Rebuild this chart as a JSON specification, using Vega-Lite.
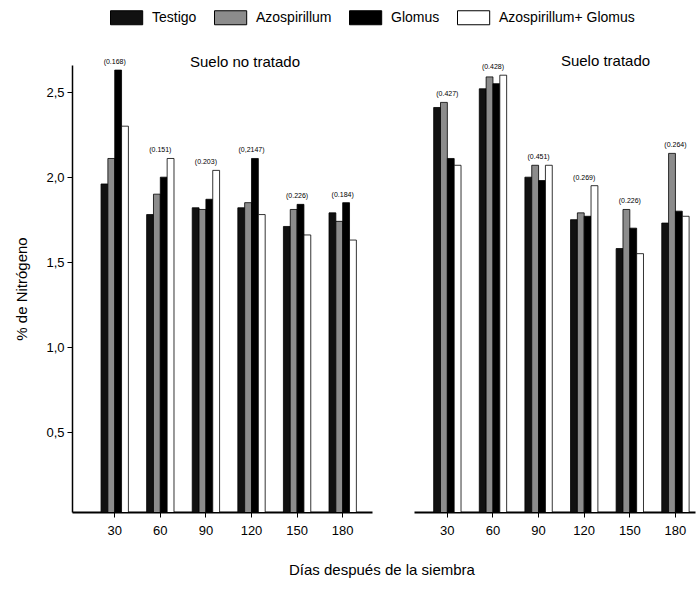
{
  "$schema": "https://vega.github.io/schema/vega-lite/v6.json",
  "background": "white",
  "padding": {"left": 14, "top": 10, "right": 2, "bottom": 4},
  "datasets": {
    "bars": [
      {"suelo": "no", "dia": 30, "tratamiento": "Testigo", "n": 1.96},
      {"suelo": "no", "dia": 30, "tratamiento": "Azospirillum", "n": 2.11},
      {"suelo": "no", "dia": 30, "tratamiento": "Glomus", "n": 2.63},
      {"suelo": "no", "dia": 30, "tratamiento": "Azospirillum+ Glomus", "n": 2.30},
      {"suelo": "no", "dia": 60, "tratamiento": "Testigo", "n": 1.78},
      {"suelo": "no", "dia": 60, "tratamiento": "Azospirillum", "n": 1.90},
      {"suelo": "no", "dia": 60, "tratamiento": "Glomus", "n": 2.00},
      {"suelo": "no", "dia": 60, "tratamiento": "Azospirillum+ Glomus", "n": 2.11},
      {"suelo": "no", "dia": 90, "tratamiento": "Testigo", "n": 1.82},
      {"suelo": "no", "dia": 90, "tratamiento": "Azospirillum", "n": 1.81},
      {"suelo": "no", "dia": 90, "tratamiento": "Glomus", "n": 1.87},
      {"suelo": "no", "dia": 90, "tratamiento": "Azospirillum+ Glomus", "n": 2.04},
      {"suelo": "no", "dia": 120, "tratamiento": "Testigo", "n": 1.82},
      {"suelo": "no", "dia": 120, "tratamiento": "Azospirillum", "n": 1.85},
      {"suelo": "no", "dia": 120, "tratamiento": "Glomus", "n": 2.11},
      {"suelo": "no", "dia": 120, "tratamiento": "Azospirillum+ Glomus", "n": 1.78},
      {"suelo": "no", "dia": 150, "tratamiento": "Testigo", "n": 1.71},
      {"suelo": "no", "dia": 150, "tratamiento": "Azospirillum", "n": 1.81},
      {"suelo": "no", "dia": 150, "tratamiento": "Glomus", "n": 1.84},
      {"suelo": "no", "dia": 150, "tratamiento": "Azospirillum+ Glomus", "n": 1.66},
      {"suelo": "no", "dia": 180, "tratamiento": "Testigo", "n": 1.79},
      {"suelo": "no", "dia": 180, "tratamiento": "Azospirillum", "n": 1.74},
      {"suelo": "no", "dia": 180, "tratamiento": "Glomus", "n": 1.85},
      {"suelo": "no", "dia": 180, "tratamiento": "Azospirillum+ Glomus", "n": 1.63},
      {"suelo": "si", "dia": 30, "tratamiento": "Testigo", "n": 2.41},
      {"suelo": "si", "dia": 30, "tratamiento": "Azospirillum", "n": 2.44},
      {"suelo": "si", "dia": 30, "tratamiento": "Glomus", "n": 2.11},
      {"suelo": "si", "dia": 30, "tratamiento": "Azospirillum+ Glomus", "n": 2.07},
      {"suelo": "si", "dia": 60, "tratamiento": "Testigo", "n": 2.52},
      {"suelo": "si", "dia": 60, "tratamiento": "Azospirillum", "n": 2.59},
      {"suelo": "si", "dia": 60, "tratamiento": "Glomus", "n": 2.55},
      {"suelo": "si", "dia": 60, "tratamiento": "Azospirillum+ Glomus", "n": 2.60},
      {"suelo": "si", "dia": 90, "tratamiento": "Testigo", "n": 2.00},
      {"suelo": "si", "dia": 90, "tratamiento": "Azospirillum", "n": 2.07},
      {"suelo": "si", "dia": 90, "tratamiento": "Glomus", "n": 1.98},
      {"suelo": "si", "dia": 90, "tratamiento": "Azospirillum+ Glomus", "n": 2.07},
      {"suelo": "si", "dia": 120, "tratamiento": "Testigo", "n": 1.75},
      {"suelo": "si", "dia": 120, "tratamiento": "Azospirillum", "n": 1.79},
      {"suelo": "si", "dia": 120, "tratamiento": "Glomus", "n": 1.77},
      {"suelo": "si", "dia": 120, "tratamiento": "Azospirillum+ Glomus", "n": 1.95},
      {"suelo": "si", "dia": 150, "tratamiento": "Testigo", "n": 1.58},
      {"suelo": "si", "dia": 150, "tratamiento": "Azospirillum", "n": 1.81},
      {"suelo": "si", "dia": 150, "tratamiento": "Glomus", "n": 1.70},
      {"suelo": "si", "dia": 150, "tratamiento": "Azospirillum+ Glomus", "n": 1.55},
      {"suelo": "si", "dia": 180, "tratamiento": "Testigo", "n": 1.73},
      {"suelo": "si", "dia": 180, "tratamiento": "Azospirillum", "n": 2.14},
      {"suelo": "si", "dia": 180, "tratamiento": "Glomus", "n": 1.80},
      {"suelo": "si", "dia": 180, "tratamiento": "Azospirillum+ Glomus", "n": 1.77}
    ],
    "lsd_no": [
      {"dia": 30, "lsd": "(0.168)"},
      {"dia": 60, "lsd": "(0.151)"},
      {"dia": 90, "lsd": "(0.203)"},
      {"dia": 120, "lsd": "(0,2147)"},
      {"dia": 150, "lsd": "(0.226)"},
      {"dia": 180, "lsd": "(0.184)"}
    ],
    "lsd_si": [
      {"dia": 30, "lsd": "(0.427)"},
      {"dia": 60, "lsd": "(0.428)"},
      {"dia": 90, "lsd": "(0.451)"},
      {"dia": 120, "lsd": "(0.269)"},
      {"dia": 150, "lsd": "(0.226)"},
      {"dia": 180, "lsd": "(0.264)"}
    ]
  },
  "title": {
    "text": "Días después de la siembra",
    "orient": "bottom",
    "anchor": "middle",
    "dx": 27,
    "offset": 26,
    "fontSize": 15,
    "fontWeight": "normal",
    "font": "Liberation Sans",
    "color": "black"
  },
  "spacing": 42,
  "resolve": {
    "scale": {"color": "shared", "x": "independent", "y": "independent"},
    "legend": {"color": "shared"}
  },
  "hconcat": [
    {
      "width": 300,
      "height": 447,
      "title": {"text": "Suelo no tratado", "offset": -12, "dx": 23},
      "layer": [
        {
          "data": {"name": "bars"},
          "transform": [{"filter": "datum.suelo === 'no'"}],
          "mark": {"type": "bar", "stroke": "black", "strokeWidth": 0.8, "clip": true},
          "encoding": {
            "x": {
              "field": "dia", "type": "ordinal", "sort": [30, 60, 90, 120, 150, 180],
              "scale": {"paddingInner": 0.4, "paddingOuter": 0.49, "align": 0.65},
              "axis": {"title": null, "labelAngle": 0}
            },
            "xOffset": {
              "field": "tratamiento", "type": "nominal",
              "sort": ["Testigo", "Azospirillum", "Glomus", "Azospirillum+ Glomus"],
              "scale": {"paddingInner": 0, "paddingOuter": 0}
            },
            "y": {
              "field": "n", "type": "quantitative",
              "scale": {"domain": [0.03, 2.66], "zero": false, "nice": false},
              "axis": {
                "title": "% de Nitrógeno",
                "values": [0.5, 1, 1.5, 2, 2.5],
                "labelExpr": "replace(format(datum.value, '.1f'), '.', ',')",
                "titlePadding": 16,
                "domainWidth": 1.5
              }
            },
            "color": {
              "field": "tratamiento", "type": "nominal",
              "sort": ["Testigo", "Azospirillum", "Glomus", "Azospirillum+ Glomus"],
              "scale": {
                "domain": ["Testigo", "Azospirillum", "Glomus", "Azospirillum+ Glomus"],
                "range": ["#111111", "#8c8c8c", "#000000", "#ffffff"]
              },
              "legend": {
                "title": null,
                "orient": "none",
                "legendX": 38,
                "legendY": -55,
                "direction": "horizontal",
                "symbolType": "M-1,-1H3.6V1H-1Z",
                "symbolSize": 196,
                "symbolStrokeColor": "black",
                "symbolStrokeWidth": 1,
                "symbolOpacity": 1,
                "labelOffset": 27,
                "labelFontSize": 14,
                "labelFont": "Liberation Sans",
                "labelColor": "black",
                "columnPadding": 15
              }
            }
          }
        },
        {
          "data": {"name": "bars"},
          "transform": [
            {"filter": "datum.suelo === 'no'"},
            {"aggregate": [{"op": "max", "field": "n", "as": "maxn"}], "groupby": ["dia"]},
            {"lookup": "dia", "from": {"data": {"name": "lsd_no"}, "key": "dia", "fields": ["lsd"]}}
          ],
          "mark": {"type": "text", "dy": -8, "fontSize": 7, "font": "Liberation Sans", "fill": "black"},
          "encoding": {
            "x": {"field": "dia", "type": "ordinal", "sort": [30, 60, 90, 120, 150, 180]},
            "y": {"field": "maxn", "type": "quantitative"},
            "text": {"field": "lsd", "type": "nominal"}
          }
        }
      ]
    },
    {
      "width": 281,
      "height": 447,
      "title": {"text": "Suelo tratado", "offset": -6, "dx": 51},
      "layer": [
        {
          "data": {"name": "bars"},
          "transform": [{"filter": "datum.suelo === 'si'"}],
          "mark": {"type": "bar", "stroke": "black", "strokeWidth": 0.8, "clip": true},
          "encoding": {
            "x": {
              "field": "dia", "type": "ordinal", "sort": [30, 60, 90, 120, 150, 180],
              "scale": {"paddingInner": 0.4, "paddingOuter": 0.28, "align": 0.77},
              "axis": {"title": null, "labelAngle": 0}
            },
            "xOffset": {
              "field": "tratamiento", "type": "nominal",
              "sort": ["Testigo", "Azospirillum", "Glomus", "Azospirillum+ Glomus"],
              "scale": {"paddingInner": 0, "paddingOuter": 0}
            },
            "y": {
              "field": "n", "type": "quantitative",
              "scale": {"domain": [0.03, 2.66], "zero": false, "nice": false},
              "axis": null
            },
            "color": {
              "field": "tratamiento", "type": "nominal",
              "sort": ["Testigo", "Azospirillum", "Glomus", "Azospirillum+ Glomus"]
            }
          }
        },
        {
          "data": {"name": "bars"},
          "transform": [
            {"filter": "datum.suelo === 'si'"},
            {"aggregate": [{"op": "max", "field": "n", "as": "maxn"}], "groupby": ["dia"]},
            {"lookup": "dia", "from": {"data": {"name": "lsd_si"}, "key": "dia", "fields": ["lsd"]}}
          ],
          "mark": {"type": "text", "dy": -8, "fontSize": 7, "font": "Liberation Sans", "fill": "black"},
          "encoding": {
            "x": {"field": "dia", "type": "ordinal", "sort": [30, 60, 90, 120, 150, 180]},
            "y": {"field": "maxn", "type": "quantitative"},
            "text": {"field": "lsd", "type": "nominal"}
          }
        }
      ]
    }
  ],
  "config": {
    "view": {"stroke": null},
    "font": "Liberation Sans",
    "title": {"fontSize": 15, "fontWeight": "normal", "font": "Liberation Sans", "color": "black", "anchor": "middle"},
    "axis": {
      "grid": false,
      "domainColor": "black",
      "tickColor": "black",
      "tickSize": 5,
      "labelFont": "Liberation Sans",
      "labelFontSize": 13,
      "labelColor": "black",
      "labelPadding": 3,
      "titleFont": "Liberation Sans",
      "titleFontSize": 15,
      "titleFontWeight": "normal",
      "titleColor": "black"
    },
    "axisX": {"domainWidth": 2, "labelPadding": 7}
  }
}
